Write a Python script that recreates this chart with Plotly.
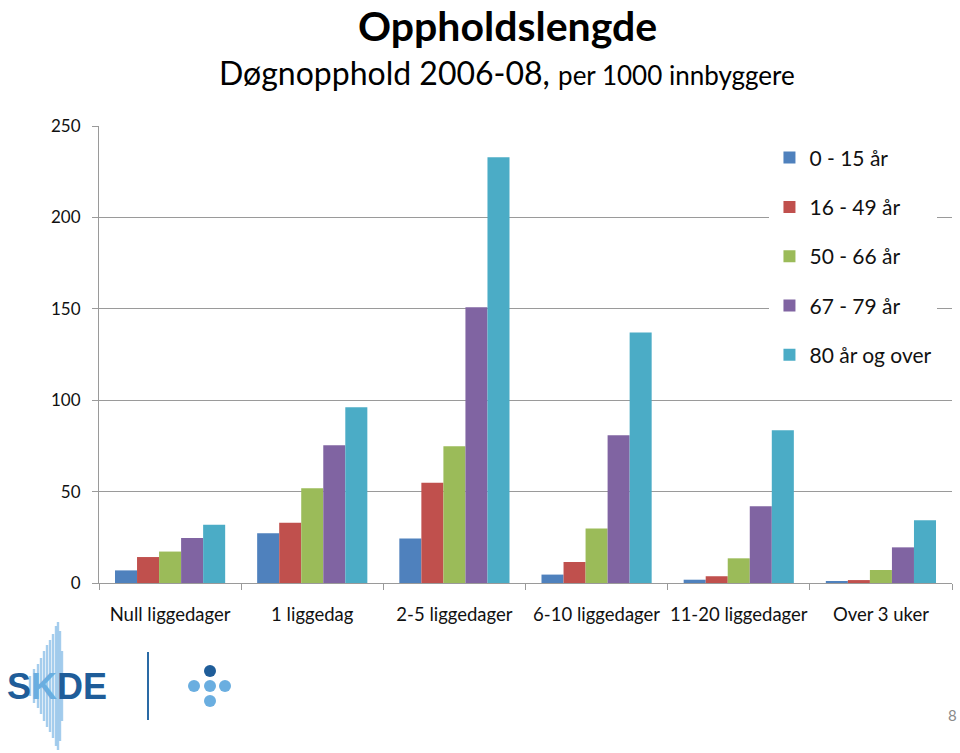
import plotly.graph_objects as go

categories = ["Null liggedager", "1 liggedag", "2-5 liggedager", "6-10 liggedager",
              "11-20 liggedager", "Over 3 uker"]
series_names = ["0 - 15 år", "16 - 49 år", "50 - 66 år", "67 - 79 år", "80 år og over"]
age_0_15 = [6.9, 27.2, 24.3, 4.6, 1.8, 0.6]
age_16_49 = [14.2, 33.0, 54.9, 11.5, 3.7, 1.6]
age_50_66 = [17.2, 51.8, 74.8, 29.8, 13.5, 7.1]
age_67_79 = [24.6, 75.3, 150.8, 80.8, 42.0, 19.5]
age_80_plus = [31.9, 96.1, 232.9, 137.0, 83.5, 34.3]
series_values = [age_0_15, age_16_49, age_50_66, age_67_79, age_80_plus]
colors = ["#4F81BD", "#C0504D", "#9BBB59", "#8064A2", "#4BACC6"]
y_ticks = [0, 50, 100, 150, 200, 250]

FONT = "Lato, 'Open Sans', sans-serif"

fig = go.Figure()
for name, vals, col in zip(series_names, series_values, colors):
    fig.add_trace(go.Bar(x=categories, y=vals, name=name, marker_color=col,
                         marker_line_width=0, legendgroup=name))

fig.update_layout(
    width=960, height=753,
    margin=dict(l=99, r=8, t=126, b=170, autoexpand=False),
    paper_bgcolor="white", plot_bgcolor="white",
    barmode="group", bargap=0.225, bargroupgap=0,
    font=dict(family=FONT, color="#111111"),
    showlegend=True,
    legend=dict(x=0.786, xanchor="left", y=0.975, yanchor="top",
                bgcolor="white", font=dict(size=21, family=FONT, color="#111111"),
                tracegroupgap=19, itemwidth=30),
)
fig.update_yaxes(range=[0, 250], tickvals=y_ticks, showgrid=True, gridcolor="#9a9a9a",
                 gridwidth=1, showline=True, linecolor="#9a9a9a", linewidth=1,
                 ticks="outside", ticklen=6, tickcolor="#9a9a9a",
                 tickfont=dict(size=17, family=FONT, color="#111111"),
                 ticklabelstandoff=8, zeroline=False, fixedrange=True, automargin=False)
fig.update_xaxes(showline=True, linecolor="#9a9a9a", linewidth=1,
                 ticks="outside", ticklen=6, tickcolor="#9a9a9a", tickson="boundaries",
                 tickfont=dict(size=18.5, family=FONT, color="#111111"), tickangle=0,
                 ticklabelstandoff=15, showgrid=False, fixedrange=True, automargin=False)

# Titles
fig.add_annotation(xref="paper", yref="paper", x=(507 - 99) / 853, y=(583 - 25) / 457,
                   yanchor="middle", xanchor="center",
                   text="<b>Oppholdslengde</b>", showarrow=False,
                   font=dict(size=41, family=FONT, color="#000000"))
fig.add_annotation(xref="paper", yref="paper", x=(507 - 99) / 853, y=(583 - 72) / 457,
                   yanchor="middle", xanchor="center",
                   text="<span style='font-size:32px'>Døgnopphold 2006-08,</span> "
                        "<span style='font-size:26px'>per 1000 innbyggere</span>",
                   showarrow=False, font=dict(size=32, family=FONT, color="#000000"))

# Page number
fig.add_annotation(xref="paper", yref="paper", x=1.0, y=(583 - 715) / 457, xshift=7,
                   xanchor="right", yanchor="middle",
                   text="8", showarrow=False, font=dict(size=15, family=FONT, color="#8a8a8a"))

# SKDE logo (decorative)
spectrum_x = [30, 34, 38, 41, 44, 47, 50, 53, 56, 58, 60, 62]
spectrum_h = [20, 34, 44, 56, 70, 82, 92, 104, 120, 128, 110, 70]
for sx, sh in zip(spectrum_x, spectrum_h):
    fig.add_shape(type="rect", xref="paper", yref="paper",
                  x0=(sx - 1.2 - 99) / 853, x1=(sx + 1.2 - 99) / 853,
                  y0=(583 - (686 + sh / 2)) / 457, y1=(583 - (686 - sh / 2)) / 457,
                  fillcolor="#8fc0e8", line_width=0, opacity=0.8, layer="above")
fig.add_annotation(xref="paper", yref="paper", x=(57 - 99) / 853, y=(583 - 686) / 457,
                   xanchor="center", yanchor="middle",
                   text="<b><span style='color:#1f5d99'>S</span><span style='color:#6aaee0'>K</span>"
                        "<span style='color:#1f5d99'>DE</span></b>",
                   showarrow=False, font=dict(size=36, family="Liberation Sans, Arial", color="#1f5d99"))
fig.add_shape(type="line", xref="paper", yref="paper",
              x0=(148 - 99) / 853, x1=(148 - 99) / 853,
              y0=(583 - 652) / 457, y1=(583 - 720) / 457,
              line=dict(color="#2a6aa5", width=2))
dots = [(210, 671, "#1f5d99"), (194, 686, "#6aaee0"), (210, 686, "#6aaee0"),
        (225, 686, "#6aaee0"), (210, 701, "#6aaee0")]
for dx, dy, dc in dots:
    r = 6
    fig.add_shape(type="circle", xref="paper", yref="paper",
                  x0=(dx - r - 99) / 853, x1=(dx + r - 99) / 853,
                  y0=(583 - (dy + r)) / 457, y1=(583 - (dy - r)) / 457,
                  fillcolor=dc, line_width=0)

fig.write_html("out.html", config={"displayModeBar": False},
               post_script="document.body.style.margin='0';document.body.style.overflow='hidden';")
